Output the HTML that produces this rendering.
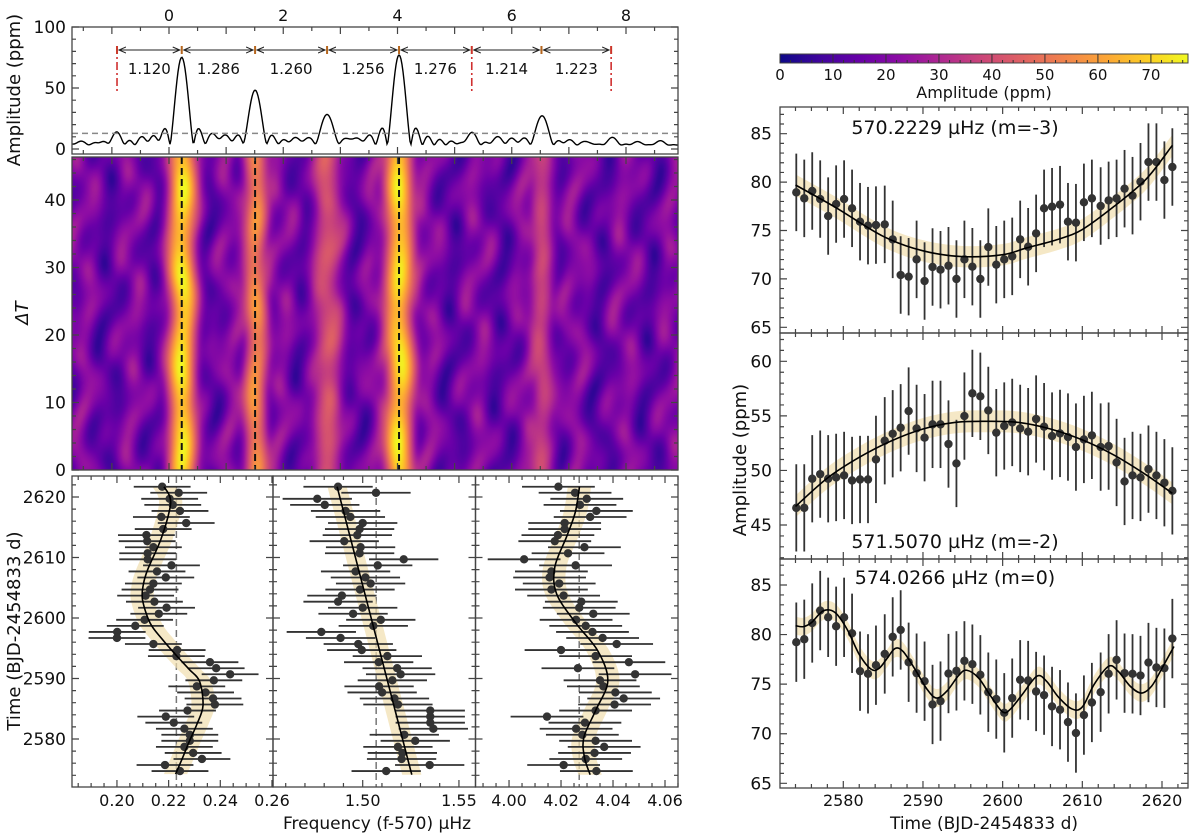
<!DOCTYPE html>
<html><head><meta charset="utf-8">
<style>
html,body{margin:0;padding:0;background:#fff;}
#wrap{position:relative;width:1200px;height:840px;overflow:hidden;}
svg text{font-family:"DejaVu Sans","Liberation Sans",sans-serif;fill:#111;}
#heat{position:absolute;left:72px;top:157px;width:606px;height:313px;}
</style></head><body>
<div id="wrap">
<canvas id="heat" width="606" height="313"></canvas>
<svg id="svg" width="1200" height="840" style="position:absolute;left:0;top:0"></svg>
</div>
<script>
// ---------- DATA ----------
const peakFreqs=[0.223,1.507,2.767,4.027,6.53];
const peakAmps=[75,48,28,77,27];
const noiseFreqs=[-1.55,-1.2,-0.92,-0.45,-0.2,0.8,1.0,2.2,2.4,3.2,3.45,5.3,5.75,6.0,6.2,7.0,7.3,7.76,8.2,8.6];
const noiseAmps=[5,4,13,7,6,9,8,7,6,7,6,13,9,7,6,6,5,9,5,6];
const threshold=12.8;
const splitMarks=[-0.91,0.223,1.507,2.767,4.027,5.30,6.52,7.74];
const splitLabels=["1.120","1.286","1.260","1.256","1.276","1.214","1.223"];
const redMarks=[-0.91,5.30,7.74];
const heatDashes=[0.223,1.507,4.027];
const topTicks=[0,2,4,6,8];

const times=[2574.1,2575.1,2576.1,2577.1,2578.1,2579.1,2580.1,2581.1,2582.1,2583.1,2584.1,2585.2,2586.2,2587.2,2588.2,2589.2,2590.2,2591.2,2592.2,2593.2,2594.2,2595.2,2596.2,2597.2,2598.2,2599.2,2600.2,2601.2,2602.2,2603.2,2604.2,2605.2,2606.2,2607.2,2608.2,2609.2,2610.2,2611.2,2612.3,2613.3,2614.3,2615.3,2616.3,2617.3,2618.3,2619.3,2620.3,2621.3];
const timesLeft=[2621.7,2620.7,2619.7,2618.7,2617.7,2616.7,2615.7,2614.7,2613.7,2612.7,2611.7,2610.7,2609.7,2608.7,2607.7,2606.7,2605.7,2604.7,2603.7,2602.7,2601.7,2600.7,2599.7,2598.7,2597.7,2596.7,2595.7,2594.7,2593.7,2592.7,2591.7,2590.7,2589.7,2588.7,2587.7,2586.7,2585.7,2584.7,2583.7,2582.7,2581.7,2580.7,2579.7,2578.7,2577.7,2576.7,2575.7,2574.7];
const freqM3=[0.2175,0.2239,0.2204,0.2216,0.2244,0.2172,0.2268,0.2179,0.2114,0.2117,0.2141,0.2119,0.2119,0.2211,0.2155,0.2189,0.2141,0.2128,0.2111,0.2145,0.2192,0.2162,0.2107,0.2071,0.2001,0.2000,0.2141,0.2233,0.2230,0.2360,0.2384,0.2438,0.2375,0.2309,0.2343,0.2372,0.2379,0.2273,0.2189,0.2220,0.2261,0.2282,0.2282,0.2261,0.2295,0.2329,0.2186,0.2244];
const freqM2=[1.4872,1.5069,1.4764,1.4803,1.4911,1.4936,1.5000,1.4984,1.4972,1.4904,1.4989,1.4984,1.5213,1.5078,1.4963,1.5014,1.5041,1.4986,1.4892,1.4872,1.5000,1.4950,1.5094,1.5055,1.4785,1.4885,1.4977,1.4995,1.5128,1.5083,1.5179,1.5197,1.5154,1.5085,1.5101,1.5165,1.5183,1.5351,1.5351,1.5351,1.5367,1.5216,1.5273,1.5183,1.5206,1.5202,1.5348,1.5122];
const freqM0=[4.0190,4.0254,4.0299,4.0273,4.0336,4.0312,4.0214,4.0214,4.0188,4.0176,4.0290,4.0227,4.0058,4.0256,4.0163,4.0156,4.0193,4.0163,4.0210,4.0278,4.0270,4.0324,4.0258,4.0295,4.0321,4.0360,4.0414,4.0200,4.0333,4.0461,4.0265,4.0485,4.0350,4.0363,4.0409,4.0441,4.0406,4.0333,4.0146,4.0292,4.0258,4.0282,4.0333,4.0366,4.0329,4.0295,4.0210,4.0336];
const freqErr=[0.011,0.018,0.014];
const fitT1=[2574.2,2577,2579.6,2582.5,2585.5,2589.5,2591.5,2593.8,2596.5,2599.2,2603,2605.5,2608,2613,2617.9,2620,2621.7];
const fitF1=[0.2227,0.2255,0.228,0.231,0.2333,0.232,0.228,0.223,0.2175,0.2128,0.2099,0.2102,0.2119,0.217,0.2204,0.2205,0.2182];
const fitT2=[2574.1,2621.7];
const fitF2=[1.5255,1.4867];
const fitT3=[2574.1,2577,2580.3,2584.7,2589.6,2594.6,2599.2,2604,2608.4,2613.5,2617.5,2621.7];
const fitF3=[4.0312,4.029,4.0288,4.0333,4.038,4.0341,4.0256,4.0183,4.0176,4.0222,4.0255,4.0271];

const ampM3=[78.94,78.32,79.08,78.25,76.49,77.73,78.25,77.29,75.91,75.50,75.56,75.63,74.08,70.40,70.23,72.02,69.78,71.23,70.95,71.36,69.99,72.02,71.26,69.99,73.29,71.47,72.02,72.33,74.08,73.32,74.70,77.29,77.46,77.67,75.91,75.81,77.91,78.32,77.53,78.11,78.32,79.32,78.60,80.04,82.07,82.07,80.21,81.56];
const ampM2=[46.57,46.57,49.24,49.66,49.24,49.36,49.54,49.08,49.17,49.17,51.01,52.72,53.36,53.91,55.44,53.85,53.00,54.22,54.22,52.42,50.64,54.98,57.06,56.79,55.50,53.46,54.07,54.40,53.85,53.55,54.71,54.01,53.15,53.39,53.06,52.14,52.84,53.21,52.14,52.23,50.73,48.99,49.54,49.36,50.12,49.54,48.87,48.13];
const ampM0=[79.23,79.53,81.17,82.42,81.74,80.84,81.74,80.13,76.31,76.04,76.91,78.05,79.77,80.47,77.21,76.11,75.30,72.95,73.29,76.07,76.34,77.35,77.01,75.94,74.19,73.49,72.11,73.59,75.44,75.37,74.26,73.89,72.75,72.42,71.17,70.07,71.88,73.15,74.19,76.04,77.45,76.11,76.04,75.87,77.18,76.68,76.61,79.60];
const ampErr=[4,4,4];
const fitRT1=[2574,2579,2585,2590,2595,2600,2603,2607,2610,2614,2618,2621.3];
const fitRA1=[79.7,77.4,74.4,72.9,72.3,72.5,73.2,74.1,75.1,77.5,80.3,83.8];
const fitRT2=[2574,2578,2582,2586,2590,2594,2598,2602,2606,2610,2614,2618,2621.3];
const fitRA2=[46.7,49.3,51.2,52.7,53.8,54.4,54.5,54.4,53.8,52.8,51.4,49.6,47.9];
const fitRT3=[2574,2575,2576,2577.5,2579,2580.5,2582,2583.5,2584.5,2585.5,2586.5,2587.5,2589,2590.5,2591.7,2593,2594.5,2595.5,2597,2598.5,2600,2601,2602.5,2604.3,2605.5,2607,2608.7,2610,2611.5,2613.3,2614.5,2616,2617.4,2618.7,2620,2621.5];
const fitRA3=[80.9,80.8,81.2,82.4,82.2,80.5,78,76.5,76.6,77.6,78.6,78.3,76.5,74.5,73.6,74.3,75.9,76.4,75.6,73.8,72.2,72.5,74,75.8,75.3,73.7,72.5,72.7,75,76.8,76.3,74.8,74.1,74.8,76.6,78.8];
const rightTitles=["570.2229 µHz (m=-3)","571.5070 µHz (m=-2)","574.0266 µHz (m=0)"];
const cbTicks=[0,10,20,30,40,50,60,70];

// ---------- helpers ----------
const NS="http://www.w3.org/2000/svg";
const svg=document.getElementById('svg');
function el(tag,attrs,parent){const e=document.createElementNS(NS,tag);for(const k in attrs)e.setAttribute(k,attrs[k]);(parent||svg).appendChild(e);return e;}
function lin(d0,d1,r0,r1){return v=>r0+(v-d0)*(r1-r0)/(d1-d0);}
function txt(s,x,y,size,anchor,name,parent,rot){const t=el('text',{x:x,y:y,'font-size':size,'text-anchor':anchor||'middle'},parent);if(rot)t.setAttribute('transform','rotate(-90 '+x+' '+y+')');t.textContent=s;return t;}
function smooth(pts){let d='M'+pts[0][0]+','+pts[0][1];for(let i=0;i<pts.length-1;i++){const p0=pts[i-1]||pts[i],p1=pts[i],p2=pts[i+1],p3=pts[i+2]||p2;d+=' C'+(p1[0]+(p2[0]-p0[0])/6)+','+(p1[1]+(p2[1]-p0[1])/6)+' '+(p2[0]-(p3[0]-p1[0])/6)+','+(p2[1]-(p3[1]-p1[1])/6)+' '+p2[0]+','+p2[1];}return d;}
function frameTicks(g,x0,y0,x1,y1,xs,xm,ys,ym){
  let d='';
  xs.forEach(x=>{d+='M'+x+','+y1+'v-7M'+x+','+y0+'v7';});
  xm.forEach(x=>{d+='M'+x+','+y1+'v-4M'+x+','+y0+'v4';});
  ys.forEach(y=>{d+='M'+x0+','+y+'h7M'+x1+','+y+'h-7';});
  ym.forEach(y=>{d+='M'+x0+','+y+'h4M'+x1+','+y+'h-4';});
  el('path',{d:d,stroke:'#444','stroke-width':1.2,fill:'none'},g);
  el('rect',{x:x0,y:y0,width:x1-x0,height:y1-y0,fill:'none',stroke:'#444','stroke-width':1.3},g);
}
function range(a,b,s){const r=[];for(let v=a;v<=b+1e-9;v+=s)r.push(+v.toFixed(6));return r;}

// ---------- top spectrum ----------
const fx=lin(0,8,169,626);
const ay=lin(0,100,149,27);
const gS=el('g',{});
const allF=peakFreqs.concat(noiseFreqs),allA=peakAmps.concat(noiseAmps);
let sp=[];
for(let px=72;px<=678;px+=1){const f=(px-169)*8/(626-169);let s=9;
  for(let i=0;i<allF.length;i++){const w=i<peakFreqs.length?0.205:0.16;const u=Math.PI*(f-allF[i])/w;const sc=Math.abs(u)<1e-6?1:Math.sin(u)/u;s+=Math.pow(allA[i]*sc,2);}
  sp.push([px,ay(Math.sqrt(s))]);}
el('path',{d:'M'+sp.map(p=>p[0]+','+p[1].toFixed(1)).join('L'),fill:'none',stroke:'#000','stroke-width':1.4},gS);
el('line',{x1:72,x2:678,y1:ay(threshold),y2:ay(threshold),stroke:'#888','stroke-width':1.5,'stroke-dasharray':'6,4'},gS);
el('defs',{}).innerHTML='<marker id="ah" markerWidth="8" markerHeight="8" refX="7" refY="4" orient="auto-start-reverse"><path d="M0,1 L7,4 L0,7" fill="none" stroke="#222" stroke-width="1"/></marker>';
for(let i=0;i<splitMarks.length-1;i++){
  const a=fx(splitMarks[i])+2,b=fx(splitMarks[i+1])-2;
  const ln=el('line',{x1:a,x2:b,y1:50,y2:50,stroke:'#222','stroke-width':1,'marker-start':'url(#ah)','marker-end':'url(#ah)'},gS);
  
  txt(splitLabels[i],(a+b)/2,74,15,'middle','splitting-label',gS);
}
splitMarks.forEach(m=>{const r=el('line',{x1:fx(m),x2:fx(m),y1:46,y2:54,stroke:'#b5651d','stroke-width':2},gS);});
redMarks.forEach(m=>{const r=el('line',{x1:fx(m),x2:fx(m),y1:46,y2:92,stroke:'#d03030','stroke-width':1.6,'stroke-dasharray':'8,3,2,3'},gS);});
frameTicks(gS,72,27,678,154,range(-1,8,1).map(fx),range(-1.5,8.5,0.5).map(fx),[0,50,100].map(ay),range(0,100,10).map(ay));
topTicks.forEach(v=>txt(String(v),fx(v),21,16,'middle','top-x-tick-label',gS));
[0,50,100].forEach(v=>txt(String(v),66,ay(v)+6,17,'end','spectrum-y-tick-label',gS));
txt('Amplitude (ppm)',20,90,18,'middle','spectrum-y-axis-title',gS,true);

// ---------- heatmap ----------
const plasma=[[13,8,135],[65,4,157],[106,0,168],[143,13,164],[177,42,144],[204,71,120],[225,100,98],[242,132,75],[252,166,54],[252,206,37],[240,249,33]];
function cmap(v){v=Math.max(0,Math.min(1,v))*10;const i=Math.min(9,Math.floor(v)),t=v-i,a=plasma[i],b=plasma[i+1];return [a[0]+(b[0]-a[0])*t,a[1]+(b[1]-a[1])*t,a[2]+(b[2]-a[2])*t];}
const hc=document.getElementById('heat').getContext('2d');
const img=hc.createImageData(606,313);
const bandAmp=[74,58,38,75,36],bandW=[0.2,0.17,0.22,0.2,0.17];
for(let r=0;r<313;r++){const dt=(313-r)/6.75;const row=dt*0.55;
  for(let c=0;c<606;c++){const f=(72+c-169)*8/457;
    let bg=17+7*Math.sin(f*7.3+1.3*Math.sin(row*0.8+f*0.5))+5*Math.sin(f*13.1-row*0.7)*Math.cos(row*0.45+f*1.3);
    let v=bg*bg;
    for(let k=0;k<peakFreqs.length;k++){const d=(f-peakFreqs[k]-0.03*Math.sin(row*0.6+k))/bandW[k];const amp=bandAmp[k]*(0.92+0.08*Math.sin(row*0.9+k*2));v+=Math.pow(amp*Math.exp(-d*d/2),2);}
    const col=cmap(Math.sqrt(v)/77);const o=(r*606+c)*4;img.data[o]=col[0];img.data[o+1]=col[1];img.data[o+2]=col[2];img.data[o+3]=255;}}
hc.putImageData(img,0,0);
const gH=el('g',{});
const hy=lin(0,40,470,200);
heatDashes.forEach(f=>{const l=el('line',{x1:fx(f),x2:fx(f),y1:157,y2:470,stroke:'#111','stroke-width':2,'stroke-dasharray':'7,4'},gH);});
frameTicks(gH,72,157,678,470,range(-1,8,1).map(fx),range(-1.5,8.5,0.5).map(fx),range(0,40,10).map(hy),range(0,46,2).map(hy));
range(0,40,10).forEach(v=>txt(String(v),66,hy(v)+6,17,'end','deltaT-tick-label',gH));
txt('ΔT',28,313,18,'middle','deltaT-axis-title',gH,true).setAttribute('font-style','italic');

// ---------- bottom freq-time panels ----------
const ty=lin(2580,2620,739,497);
const panels=[
 {x0:72,x1:273,fd:[0.1826,0.2604],maj:[0.20,0.22,0.24,0.26],lab:['0.20','0.22','0.24','0.26'],minStep:0.005,f:freqM3,err:freqErr[0],ft:fitT1,ff:fitF1,dash:0.223,band:0.0045,name:'m-3'},
 {x0:273,x1:475.5,fd:[1.4534,1.5586],maj:[1.50,1.55],lab:['1.50','1.55'],minStep:0.01,f:freqM2,err:freqErr[1],ft:fitT2,ff:fitF2,dash:1.507,band:0.005,name:'m-2'},
 {x0:475.5,x1:678,fd:[3.9871,4.0650],maj:[4.00,4.02,4.04,4.06],lab:['4.00','4.02','4.04','4.06'],minStep:0.005,f:freqM0,err:freqErr[2],ft:fitT3,ff:fitF3,dash:4.027,band:0.0045,name:'m0'}];
panels.forEach((p,pi)=>{
  const g=el('g',{});
  const X=lin(p.fd[0],p.fd[1],p.x0,p.x1);
  const cp=el('clipPath',{id:'cp'+pi});el('rect',{x:p.x0,y:476,width:p.x1-p.x0,height:311},cp);
  const gc=el('g',{'clip-path':'url(#cp'+pi+')'},g);
  el('line',{x1:X(p.dash),x2:X(p.dash),y1:476,y2:787,stroke:'#777','stroke-width':1.5,'stroke-dasharray':'7,4'},gc);
  const c=p.ft.map((t,i)=>[X(p.ff[i]),ty(t)]);
  const up=p.ft.map((t,i)=>[X(p.ff[i]-p.band),ty(t)]),dn=p.ft.map((t,i)=>[X(p.ff[i]+p.band),ty(t)]).reverse();
  const bd=smooth(up)+' L'+smooth(dn).slice(1)+'Z';
  el('path',{d:bd,fill:'#f1deae','fill-opacity':0.7,stroke:'none'},gc);
  p.f.forEach((f,i)=>{const y=ty(timesLeft[i]);
    const e=el('line',{x1:X(f-p.err),x2:X(f+p.err),y1:y,y2:y,stroke:'#333','stroke-width':1.8},gc);
    const d=el('circle',{cx:X(f),cy:y,r:4.2,fill:'#333'},gc);});
  el('path',{d:smooth(c),fill:'none',stroke:'#000','stroke-width':1.6},gc);
  const mins=range(Math.ceil(p.fd[0]/p.minStep)*p.minStep,p.fd[1],p.minStep).map(X);
  frameTicks(g,p.x0,476,p.x1,787,p.maj.map(X),mins,range(2580,2620,10).map(ty),range(2574,2622,2).map(ty));
  p.maj.forEach((v,i)=>txt(p.lab[i],X(v),806,16,'middle','x-tick-label',g));
});
range(2580,2620,10).forEach(v=>txt(String(v),66,ty(v)+6,17,'end','time-tick-label'));
txt('Time (BJD-2454833 d)',20,631,18,'middle','time-axis-title',null,true);
txt('Frequency (f-570) µHz',377,829,17,'middle','frequency-axis-title');

// ---------- colorbar ----------
const cbx=lin(0,77,780,1188);
const gCB=el('g',{});
const lg=el('linearGradient',{id:'cbg',x1:0,x2:1,y1:0,y2:0},el('defs',{},gCB));
for(let i=0;i<=10;i++){const c=plasma[i];el('stop',{offset:i/10,'stop-color':'rgb('+c.join(',')+')'},lg);}
el('rect',{x:780,y:54,width:408,height:9,fill:'url(#cbg)',stroke:'#444','stroke-width':1},gCB);
let cbd='';range(0,76,2).forEach(v=>{cbd+='M'+cbx(v)+',63v-3';});cbTicks.forEach(v=>{cbd+='M'+cbx(v)+',54v9';});
el('path',{d:cbd,stroke:'#333','stroke-width':1},gCB);
cbTicks.forEach(v=>txt(String(v),cbx(v),80,15,'middle','colorbar-tick-label',gCB));
txt('Amplitude (ppm)',984,98,16,'middle','colorbar-title',gCB);

// ---------- right amplitude panels ----------
const rx=lin(2580,2620,843.3,1162);
const rp=[
 {y0:107,y1:333,yd:[65,85],yr:[327.3,133.7],maj:[65,70,75,80,85],a:ampM3,err:ampErr[0],ft:fitRT1,fa:fitRA1,band:1.1,title:rightTitles[0],ty:134,name:'m-3'},
 {y0:333,y1:559,yd:[45,60],yr:[525,361.3],maj:[45,50,55,60],a:ampM2,err:ampErr[1],ft:fitRT2,fa:fitRA2,band:1.0,title:rightTitles[1],ty:548,name:'m-2'},
 {y0:559,y1:788,yd:[65,85],yr:[783.3,585],maj:[65,70,75,80,85],a:ampM0,err:ampErr[2],ft:fitRT3,fa:fitRA3,band:0.9,title:rightTitles[2],ty:584,name:'m0'}];
rp.forEach((p,pi)=>{
  const g=el('g',{});
  const Y=lin(p.yd[0],p.yd[1],p.yr[0],p.yr[1]);
  const cp=el('clipPath',{id:'rc'+pi});el('rect',{x:780,y:p.y0,width:408,height:p.y1-p.y0},cp);
  const gc=el('g',{'clip-path':'url(#rc'+pi+')'},g);
  const up=p.ft.map((t,i)=>[rx(t),Y(p.fa[i]+p.band)]),dn=p.ft.map((t,i)=>[rx(t),Y(p.fa[i]-p.band)]).reverse();
  el('path',{d:smooth(up)+' L'+smooth(dn).slice(1)+'Z',fill:'#f1deae','fill-opacity':0.7,stroke:'none'},gc);
  p.a.forEach((a,i)=>{const x=rx(times[i]);
    const e=el('line',{x1:x,x2:x,y1:Y(a-p.err),y2:Y(a+p.err),stroke:'#333','stroke-width':1.8},gc);
    const d=el('circle',{cx:x,cy:Y(a),r:4.2,fill:'#333'},gc);});
  el('path',{d:smooth(p.ft.map((t,i)=>[rx(t),Y(p.fa[i])])),fill:'none',stroke:'#000','stroke-width':1.6},gc);
  frameTicks(g,780,p.y0,1188,p.y1,range(2580,2620,10).map(rx),range(2574,2622,2).map(rx),p.maj.map(Y),range(p.yd[0]-3,p.yd[1]+3,1).filter(v=>Y(v)>p.y0&&Y(v)<p.y1).map(Y));
  p.maj.forEach(v=>txt(String(v),772,Y(v)+6,17,'end','y-tick-label',g));
  txt(p.title,955,p.ty,19,'middle','panel-title',g);
});
range(2580,2620,10).forEach(v=>txt(String(v),rx(v),806,16,'middle','time-x-tick-label'));
txt('Time (BJD-2454833 d)',984,829,17,'middle','right-time-axis-title');
txt('Amplitude (ppm)',746,460,18,'middle','right-amplitude-axis-title',null,true);
</script>
</body></html>
